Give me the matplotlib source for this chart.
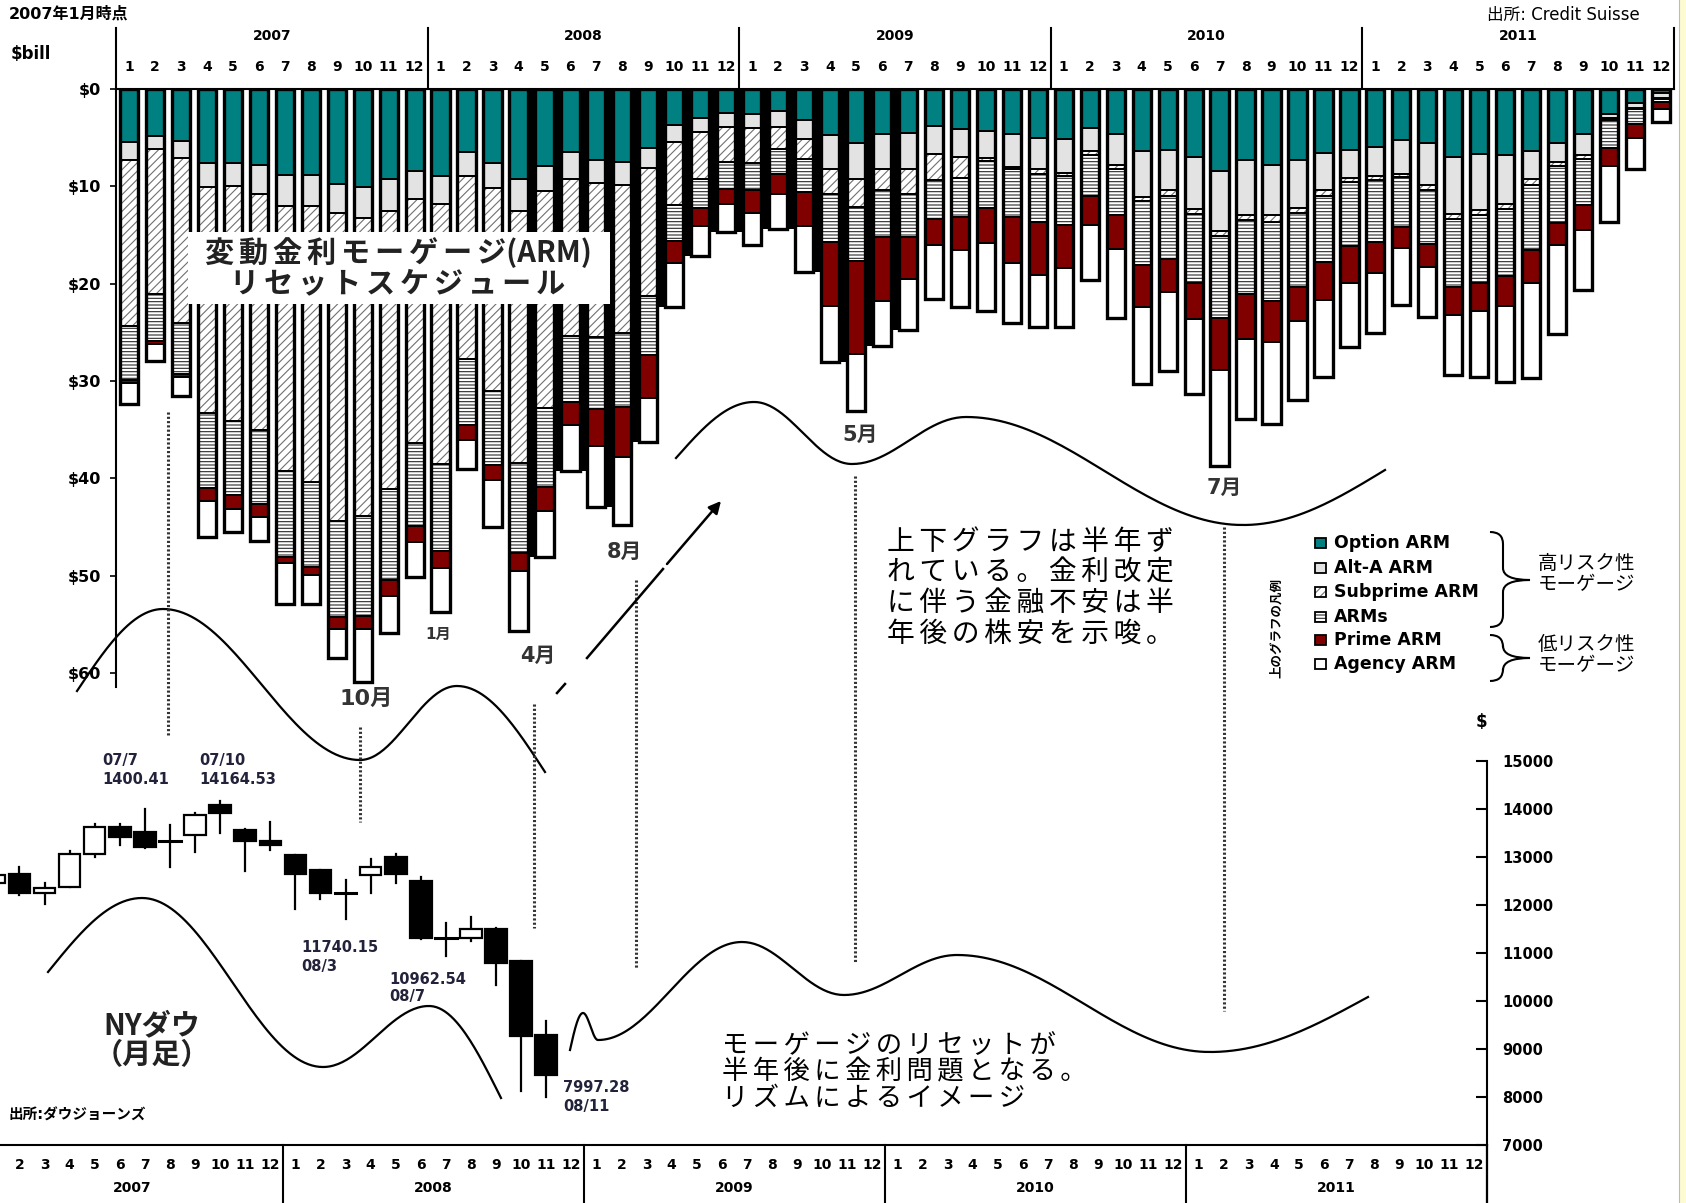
import numpy as np
import matplotlib
matplotlib.use('Agg')
import matplotlib.pyplot as plt
from matplotlib.patches import Rectangle, PathPatch
from matplotlib.path import Path

plt.rcParams['font.family'] = ['DejaVu Sans', 'Noto Sans CJK JP']
plt.rcParams['hatch.linewidth'] = 0.8
JP = ['Noto Sans CJK JP', 'DejaVu Sans']

# ---- ARM reset schedule ($bill per month, Jan 2007 - Dec 2011) ----
years = ['2007', '2008', '2009', '2010', '2011']
option_arm = [5.4, 4.8, 5.3, 7.6, 7.6, 7.8, 8.8, 8.8, 9.8, 10.1, 9.3, 8.4,
              8.9, 6.5, 7.6, 9.2, 7.9, 6.5, 7.3, 7.5, 6.1, 3.7, 3.0, 2.5,
              2.6, 2.3, 3.2, 4.7, 5.5, 4.6, 4.5, 3.8, 4.1, 4.3, 4.6, 5.0,
              5.1, 4.0, 4.6, 6.4, 6.3, 7.0, 8.4, 7.3, 7.8, 7.3, 6.6, 6.3,
              6.0, 5.2, 5.5, 7.0, 6.7, 6.8, 6.4, 5.5, 4.6, 2.6, 1.4, 0.4]
alt_a_arm = [1.9, 1.4, 1.8, 2.5, 2.4, 3.0, 3.2, 3.2, 2.9, 3.2, 3.2, 2.9,
             2.9, 2.4, 2.6, 3.3, 2.6, 2.8, 2.4, 2.4, 2.0, 1.7, 1.4, 1.4,
             1.4, 1.6, 1.9, 3.5, 3.7, 3.6, 3.7, 2.9, 2.9, 2.8, 3.4, 3.2,
             3.5, 2.4, 3.2, 4.7, 4.1, 5.3, 6.2, 5.6, 5.2, 4.9, 3.8, 2.8,
             2.9, 3.5, 4.4, 5.8, 5.7, 5.0, 2.8, 2.0, 2.2, 0.4, 0.6, 0.5]
subprime_arm = [17.1, 14.9, 16.9, 23.2, 24.1, 24.2, 27.3, 28.4, 31.7, 30.6, 28.6, 25.1,
                26.7, 18.9, 20.8, 25.9, 22.3, 16.1, 15.8, 15.2, 13.2, 6.5, 4.8, 3.6,
                3.6, 2.3, 2.1, 2.6, 2.9, 2.2, 2.6, 2.7, 2.1, 0.3, 0.2, 0.5,
                0.3, 0.4, 0.4, 0.4, 0.6, 0.5, 0.5, 0.6, 0.7, 0.5, 0.6, 0.5,
                0.5, 0.3, 0.5, 0.6, 0.5, 0.5, 0.7, 0.4, 0.4, 0.2, 0.1, 0.1]
arms = [5.5, 4.8, 5.3, 7.7, 7.6, 7.7, 8.8, 8.7, 9.9, 10.3, 9.4, 8.5,
        9.0, 6.7, 7.6, 9.3, 8.1, 6.8, 7.4, 7.6, 6.0, 3.7, 3.0, 2.8,
        2.8, 2.5, 3.4, 4.9, 5.6, 4.8, 4.4, 4.0, 4.1, 4.8, 5.0, 5.0,
        5.1, 4.2, 4.7, 6.6, 6.5, 7.1, 8.4, 7.6, 8.1, 7.6, 6.8, 6.5,
        6.3, 5.2, 5.5, 7.0, 7.0, 6.9, 6.6, 5.9, 4.7, 2.9, 1.5, 0.3]
prime_arm = [0.3, 0.3, 0.3, 1.3, 1.5, 1.3, 0.6, 0.8, 1.2, 1.3, 1.6, 1.7,
             1.7, 1.6, 1.6, 1.8, 2.5, 2.3, 3.8, 5.1, 4.5, 2.3, 1.9, 1.5,
             2.3, 2.1, 3.5, 6.6, 9.5, 6.6, 4.3, 2.6, 3.3, 3.6, 4.7, 5.4,
             4.4, 3.0, 3.5, 4.3, 3.4, 3.7, 5.4, 4.6, 4.2, 3.5, 3.9, 3.8,
             3.2, 2.1, 2.4, 2.8, 2.9, 3.1, 3.4, 2.2, 2.6, 1.8, 1.4, 0.8]
agency_arm = [2.2, 1.8, 2.0, 3.7, 2.3, 2.5, 4.2, 3.0, 3.0, 5.4, 3.8, 3.6,
              4.5, 3.0, 4.8, 6.2, 4.7, 4.8, 6.3, 7.0, 4.5, 4.5, 3.1, 2.9,
              3.3, 3.6, 4.7, 5.8, 5.9, 4.6, 5.3, 5.6, 5.9, 7.0, 6.1, 5.4,
              6.1, 5.6, 7.1, 7.9, 8.1, 7.7, 9.8, 8.2, 8.4, 8.2, 7.9, 6.6,
              6.2, 5.9, 5.1, 6.2, 6.8, 7.8, 9.8, 9.2, 6.2, 5.8, 3.2, 1.3]
series_names = ['Option ARM', 'Alt-A ARM', 'Subprime ARM', 'ARMs', 'Prime ARM', 'Agency ARM']

# ---- NY Dow monthly candles (Jan 2007 - Nov 2008) ----
dow_open = [12450, 12655, 12260, 12380, 13060, 13630, 13520, 13330, 13450, 14080, 13570, 13340,
            13040, 12725, 12250, 12630, 13000, 12490, 11310, 11310, 11490, 10830, 9300]
dow_close = [12630, 12240, 12350, 13060, 13630, 13410, 13212, 13360, 13880, 13910, 13340, 13250,
             12640, 12240, 12230, 12800, 12640, 11320, 11330, 11490, 10800, 9280, 8450]
dow_high = [12800, 12790, 12450, 13120, 13690, 13690, 14000, 13660, 13920, 14164, 13580, 13730,
            13050, 12730, 12520, 12950, 13070, 12580, 11620, 11750, 11520, 10840, 9590]
dow_low = [12380, 12200, 12030, 12380, 13000, 13250, 13180, 12800, 13110, 13500, 12700, 13140,
           11920, 12130, 11700, 12260, 12450, 11300, 10940, 11240, 10330, 8130, 7997]
dow_ticks = [7000, 8000, 9000, 10000, 11000, 12000, 13000, 14000, 15000]

W, H = 1686, 1203
fig = plt.figure(figsize=(W / 100, H / 100), dpi=100)


def track(s, sp='\u2006'):
    # widen the character pitch of Japanese text
    return '\n'.join(sp.join(line) for line in s.split('\n'))


# ================= top chart: ARM resets =================
top_l, top_r, top_t, ymax = 116, 1674, 89, 61.5
top_b = top_t + ymax * 9.73
ax = fig.add_axes([top_l / W, 1 - top_b / H, (top_r - top_l) / W, (top_b - top_t) / H])
ax.set_xlim(0, 60)
ax.set_ylim(ymax, 0)

segs = [option_arm, alt_a_arm, subprime_arm, arms, prime_arm, agency_arm]
styles = [dict(color='#008080'), dict(color='#e3e3e3'),
          dict(facecolor='white', edgecolor='#707070', hatch='////'),
          dict(facecolor='white', edgecolor='#2a2a2a', hatch='-----'),
          dict(color='#800000'), dict(color='white')]
x = np.arange(60) + 0.5
bw = 0.70
total = np.sum(segs, axis=0)

# black fill between the 2008-09 bars (as in the original print)
for i in range(15, 30):
    ax.bar(i + 1, min(total[i], total[i + 1]), width=1 - bw, color='black', lw=0, zorder=1)

bottom = np.zeros(60)
for vals, st in zip(segs, styles):
    vals = np.array(vals)
    ax.bar(x, vals, bottom=bottom, width=bw, lw=0, zorder=2, **st)
    ax.bar(x, vals, bottom=bottom, width=bw, fill=False, edgecolor='black', lw=1.3, zorder=3)
    bottom += vals
ax.bar(x, total, width=bw, fill=False, edgecolor='black', lw=2.4, zorder=4)

for s in ['right', 'bottom']:
    ax.spines[s].set_visible(False)
ax.spines['top'].set_linewidth(1.5)
ax.spines['left'].set_linewidth(1.5)
ax.set_xticks([])
ax.set_yticks(range(0, 61, 10))
ax.set_yticklabels(['$%d' % v for v in range(0, 61, 10)], fontsize=11.5, fontweight='bold')
ax.tick_params(axis='y', direction='out', length=4, width=1.2, pad=7)

for m in range(60):
    ax.text(m + 0.5, -2.3, str(m % 12 + 1), ha='center', va='center', fontsize=10,
            fontweight='bold', clip_on=False)
for k, yr in enumerate(years):
    ax.text(12 * k + 6, -5.4, yr, ha='center', va='center', fontsize=10, fontweight='bold',
            clip_on=False)
for k in range(6):
    ax.plot([12 * k, 12 * k], [-6.3, 0], color='black', lw=1.5, clip_on=False)

# ================= bottom chart: NY Dow =================
bot_l, bot_r, bot_t, bot_b = -18.2, 1487, 761, 1145
axb = fig.add_axes([bot_l / W, 1 - bot_b / H, (bot_r - bot_l) / W, (bot_b - bot_t) / H])
axb.set_xlim(0, 60)
axb.set_ylim(7000, 15000)
axb.patch.set_alpha(0)
for i in range(len(dow_open)):
    o, c, hi, lo = dow_open[i], dow_close[i], dow_high[i], dow_low[i]
    xc = i + 0.5
    axb.plot([xc, xc], [lo, hi], color='black', lw=1.6, zorder=2)
    if abs(c - o) < 40:
        axb.plot([xc - 0.43, xc + 0.43], [o, o], color='black', lw=2.2, zorder=3)
    else:
        axb.add_patch(Rectangle((xc - 0.43, min(o, c)), 0.86, abs(c - o),
                                facecolor='black' if c < o else 'white',
                                edgecolor='black', lw=1.6, zorder=3))
for s in ['left', 'top']:
    axb.spines[s].set_visible(False)
axb.spines['right'].set_linewidth(1.5)
axb.spines['bottom'].set_linewidth(1.5)
axb.yaxis.tick_right()
axb.set_yticks(dow_ticks)
axb.set_yticklabels([str(v) for v in dow_ticks], fontsize=10.5, fontweight='bold')
axb.tick_params(axis='y', direction='in', length=8, width=1.5, pad=11)
axb.set_xticks([])
tr = axb.get_xaxis_transform()
for m in range(1, 60):
    axb.text(m + 0.5, -0.052, str(m % 12 + 1), transform=tr, ha='center', va='center',
             fontsize=10, fontweight='bold', clip_on=False)
for k, yr in enumerate(years):
    axb.text(12 * k + 6, -0.112, yr, transform=tr, ha='center', va='center',
             fontsize=10, fontweight='bold', clip_on=False)
for k in range(1, 6):
    axb.plot([12 * k, 12 * k], [0, -0.16], transform=tr, color='black', lw=1.5, clip_on=False)
axb.plot([60, 60], [0, -0.16], transform=tr, color='black', lw=1.5, clip_on=False)

# ================= overlay: annotations =================
ov = fig.add_axes([0, 0, 1, 1], zorder=10)
ov.set_xlim(0, W)
ov.set_ylim(H, 0)
ov.axis('off')
ov.patch.set_alpha(0)

ov.add_patch(Rectangle((1679, 0), 7, H, facecolor='#fdfbd2', edgecolor='none'))
ov.plot([1679, 1679], [0, H], color='#bbbbbb', lw=0.8)


def wave(pts, n=50):
    xs, ys = [], []
    k = len(pts) - 1
    for i in range(k):
        (x0, y0), (x1, y1) = pts[i], pts[i + 1]
        t = np.linspace(0, 1, n)
        if i == 0:
            s = np.sin(t * np.pi / 2)
        elif i == k - 1:
            s = 1 - np.cos(t * np.pi / 2)
        else:
            s = (1 - np.cos(t * np.pi)) / 2
        xs.extend(x0 + (x1 - x0) * t)
        ys.extend(y0 + (y1 - y0) * s)
    return xs, ys


rhythm_waves = [
    [(77, 691), (163, 609), (360, 760), (457, 686), (545, 772)],
    [(676, 458), (754, 402), (852, 464), (966, 417), (1243, 525), (1385, 470)],
    [(48, 972), (142, 898), (323, 1067), (429, 1006), (501, 1098)],
    [(570, 1050), (583, 1013), (598, 1040), (742, 942), (844, 995), (957, 955),
     (1210, 1052), (1368, 997)],
]
for pts in rhythm_waves:
    wx, wy = wave(pts)
    ov.plot(wx, wy, color='black', lw=1.6)

for xv, y0, y1 in [(168, 412, 735), (360, 727, 822), (534, 704, 928), (636, 580, 968),
                   (855, 476, 962), (1224, 527, 1011)]:
    ov.plot([xv, xv], [y0, y1], color='#333333', lw=2.2, ls=(0, (0.7, 0.7)))

# arrow
ov.plot([557, 565], [693, 684], color='black', lw=1.8)
ov.plot([587, 663], [658, 569], color='black', lw=1.8)
ov.annotate('', xy=(721, 501), xytext=(667, 564),
            arrowprops=dict(arrowstyle='-|>', color='black', lw=1.8, mutation_scale=18,
                            shrinkA=0, shrinkB=0))

# month marks
for txt, xx, yy, fs in [('10月', 366, 699, 16), ('4月', 538, 656, 15), ('8月', 624, 552, 15),
                        ('5月', 860, 435, 15), ('7月', 1224, 488, 15), ('1月', 438, 634, 11)]:
    ov.text(xx, yy, txt, ha='center', va='center', fontsize=fs, fontweight='bold',
            color='#333333')

# title box
ov.add_patch(Rectangle((188, 232), 422, 72, facecolor='white', edgecolor='none'))
ov.text(398, 268, track('変動金利モーゲージ') + '(ARM)\n' + track('リセットスケジュール'),
        ha='center', va='center', fontsize=21, fontweight='bold', family=JP, color='#222222',
        linespacing=1.0)

ov.text(9, 14, '2007年1月時点', ha='left', va='center', fontsize=11.5, fontweight='bold')
ov.text(11, 54, '$bill', ha='left', va='center', fontsize=12, fontweight='bold')
ov.text(1640, 15, '出所: Credit Suisse', ha='right', va='center', fontsize=12)

ov.text(887, 588, track('上下グラフは半年ず\nれている。金利改定\nに伴う金融不安は半\n年後の株安を示唆。'),
        ha='left', va='center', fontsize=20, family=JP, linespacing=1.03)

ov.text(722, 1072, track('モーゲージのリセットが\n半年後に金利問題となる。\nリズムによるイメージ'),
        ha='left', va='center', fontsize=19, family=JP, linespacing=0.98)

ov.text(152, 1040, 'NYダウ\n（月足）', ha='center', va='center', fontsize=21, fontweight='bold',
        family=JP, linespacing=1.0, color='#222222')
ov.text(9, 1115, '出所:ダウジョーンズ', ha='left', va='center', fontsize=10.5, fontweight='bold')

# candle labels
for txt, xx, yy in [('07/7\n1400.41', 102, 770), ('07/10\n14164.53', 199, 770),
                    ('11740.15\n08/3', 301, 957), ('10962.54\n08/7', 389, 988),
                    ('7997.28\n08/11', 563, 1097)]:
    ov.text(xx, yy, txt, ha='left', va='center', fontsize=10.5, fontweight='bold',
            color='#22223a', linespacing=1.25)

ov.text(1481, 722, '$', ha='center', va='center', fontsize=12, fontweight='bold')
ov.plot([1487, 1487], [1145, H], color='black', lw=1.5)

# legend
leg_y = [543, 568, 592, 617, 640, 664]
for name, st, yy in zip(series_names, styles, leg_y):
    ov.add_patch(Rectangle((1315, yy - 5), 11, 10, lw=0, **st))
    ov.add_patch(Rectangle((1315, yy - 5), 11, 10, fill=False, edgecolor='black', lw=1.3))
    ov.text(1334, yy, name, ha='left', va='center', fontsize=12.5, fontweight='bold')
ov.text(1276, 628, '上のグラフの凡例', rotation=90, ha='center', va='center', fontsize=9,
        fontweight='bold', family=JP)


def brace(xe, y0, y1, ym, xt, r=12):
    xm = xe + 13
    verts = [(xe, y0), (xm, y0), (xm, y0 + r), (xm, ym - r), (xm, ym), (xt, ym),
             (xm, ym), (xm, ym + r), (xm, y1 - r), (xm, y1), (xe, y1)]
    codes = [Path.MOVETO, Path.CURVE3, Path.CURVE3, Path.LINETO, Path.CURVE3, Path.CURVE3,
             Path.CURVE3, Path.CURVE3, Path.LINETO, Path.CURVE3, Path.CURVE3]
    ov.add_patch(PathPatch(Path(verts, codes), fill=False, lw=1.5, edgecolor='black'))


brace(1490, 532, 627, 580, 1530)
brace(1490, 635, 681, 658, 1530)
ov.text(1538, 574, '高リスク性\nモーゲージ', ha='left', va='center', fontsize=14, family=JP,
        linespacing=1.0)
ov.text(1538, 655, '低リスク性\nモーゲージ', ha='left', va='center', fontsize=14, family=JP,
        linespacing=1.0)

fig.savefig('out.png', dpi=100)
